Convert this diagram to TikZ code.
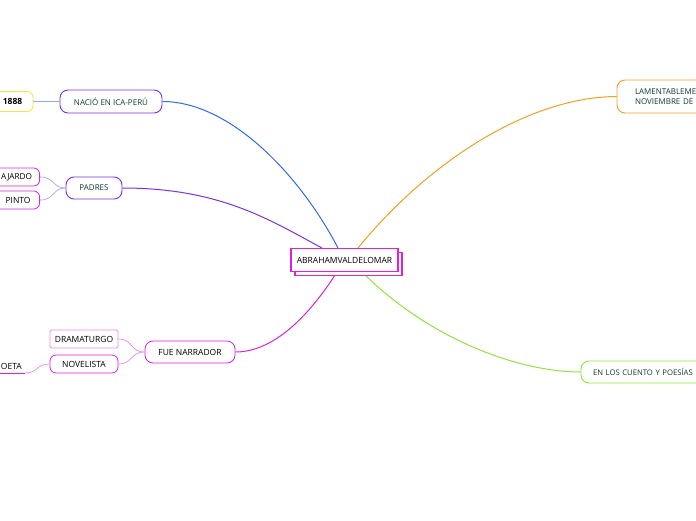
\documentclass[tikz,border=0pt]{standalone}
\usepackage{fontspec}
\setmainfont{Open Sans}
\usetikzlibrary{shadows}
\definecolor{cblue}{HTML}{2F6AF5}
\definecolor{cpurple}{HTML}{7B2FF0}
\definecolor{corange}{HTML}{F5A020}
\definecolor{cgreen}{HTML}{8EE63A}
\definecolor{cmag}{HTML}{E020E0}
\definecolor{cpink}{HTML}{EE88EE}
\definecolor{clav}{HTML}{B9A0F0}
\definecolor{clblue}{HTML}{93AAF2}
\definecolor{cyellow}{HTML}{F0E840}
\definecolor{ctext}{HTML}{0F3D2E}
\newcommand{\fs}[1]{\fontsize{#1}{#1}\selectfont}
\tikzset{
  topic/.style={draw, rounded corners=8pt, fill=white, line width=0.9pt, inner sep=0pt, font=\fs{8}, text=ctext},
  sub/.style={draw, rounded corners=6pt, fill=white, line width=0.8pt, inner sep=0pt, font=\fs{8.5}, text=black},
  conn/.style={line width=1pt},
  thin conn/.style={line width=0.7pt}
}
\begin{document}
\begin{tikzpicture}[x=1pt,y=-1pt]
\clip (0,0) rectangle (696,520);
\fill[white] (0,0) rectangle (696,520);
% main connector ends on the central node
\coordinate (cb) at (338,248);
\coordinate (cp) at (322,248);
\coordinate (co) at (358,248);
\coordinate (cg) at (362,272);
\coordinate (cm) at (337,272);
% nodes
\node[topic, draw=cpurple, minimum width=102pt, minimum height=23pt] (nacio) at (111,101.5) {NACIÓ EN ICA-PERÚ};
\node[sub, draw=cyellow, minimum width=41pt, minimum height=20pt, font=\fs{8.5}\bfseries] (y1888) at (12.5,101.5) {1888};
\node[topic, draw=cpurple, minimum width=56pt, minimum height=22pt] (padres) at (94,188) {PADRES};
\node[sub, draw=cmag, minimum width=80pt, minimum height=18pt, text width=65pt, align=right, anchor=east, font=\fs{8.2}] (fajardo) at (40,177) {AJARDO};
\node[sub, draw=cmag, minimum width=80pt, minimum height=18pt, text width=62pt, align=right, anchor=east] (pinto) at (40,200) {PINTO};
\node[sub, draw=cmag, minimum width=90pt, minimum height=22pt, rounded corners=8pt] (fue) at (190,352) {FUE NARRADOR};
\node[sub, draw=cpink, minimum width=68pt, minimum height=18pt, rounded corners=1.5pt] (drama) at (84,339) {DRAMATURGO};
\node[sub, draw=cmag, minimum width=68pt, minimum height=18pt] (novel) at (84,364) {NOVELISTA};
\node[anchor=base east, inner sep=0pt, font=\fs{8.5}] (poeta) at (22,369) {OETA};
\coordinate (poetaend) at (25,373);
\node[topic, draw=corange, minimum width=120pt, minimum height=33pt, text width=84pt, align=left, font=\fontsize{8}{10.5}\selectfont] (lament) at (677,96.5) {LAMENTABLEME\\NOVIEMBRE DE};
\node[topic, draw=cgreen, minimum width=140pt, minimum height=22pt, text width=116pt, align=left, font=\fs{7.7}] (cuento) at (651,372) {EN LOS CUENTO Y POESÍAS};
% connectors
\draw[conn, cblue] (cb) .. controls (300,175) and (230,101.5) .. (nacio.east);
\draw[conn, cpurple] (cp) .. controls (270,220) and (220,188) .. (padres.east);
\draw[conn, corange] (co) .. controls (430,160) and (530,97) .. (lament.west);
\draw[conn, cgreen] (cg) .. controls (430,340) and (520,372) .. (cuento.west);
\draw[conn, cmag] (cm) .. controls (300,330) and (265,352) .. (fue.east);
\draw[thin conn, clblue] (y1888.east) -- (nacio.west);
\draw[thin conn, clav] (fajardo.east) .. controls (55,177) and (52,188) .. (padres.west);
\draw[thin conn, clav] (pinto.east) .. controls (55,200) and (52,188) .. (padres.west);
\draw[thin conn, cpink] (drama.east) .. controls (133,339) and (130,352) .. (fue.west);
\draw[thin conn, cpink] (novel.east) .. controls (133,364) and (130,352) .. (fue.west);
\draw[thin conn, cmag] (0,373) -- (poetaend);
\draw[thin conn, cpink] (poetaend) .. controls (38,373) and (36,364) .. (novel.west);
% central node
\node[draw=cmag, fill=white, line width=1.6pt, minimum width=107pt, minimum height=23pt, inner sep=0pt,
  font=\fs{8.5}, copy shadow={shadow xshift=4pt, shadow yshift=-4pt}] (abr) at (344.5,260) {ABRAHAMVALDELOMAR};
\end{tikzpicture}
\end{document}
